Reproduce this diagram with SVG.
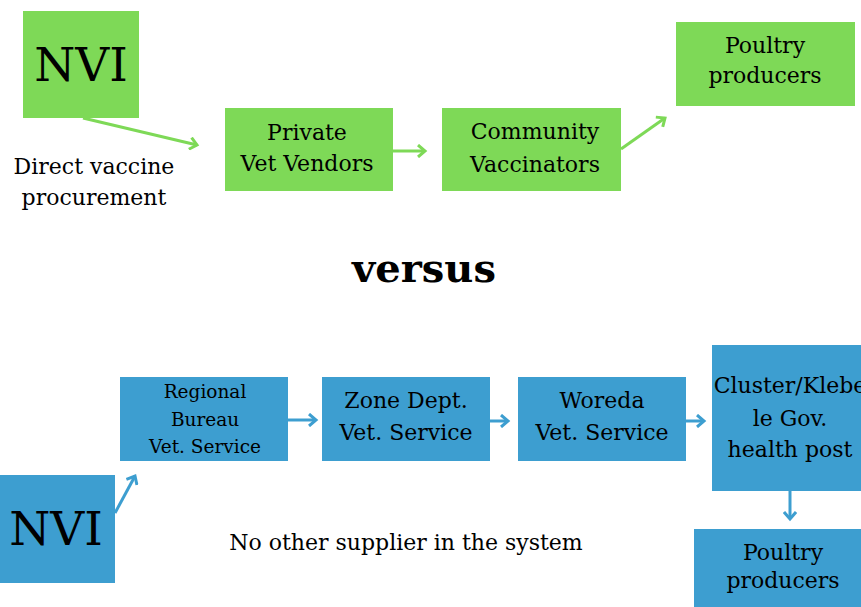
<svg xmlns="http://www.w3.org/2000/svg" width="861" height="607" viewBox="0 0 861 607">
<style>
.g{fill:#7ED957}
.b{fill:#3D9ED0}
text{font-family:"DejaVu Serif","Liberation Serif",serif;fill:#000;text-anchor:middle}
.t{font-size:22px}
.s{font-size:18.5px}
.big{font-size:47px}
.vs{font-size:40px;font-weight:bold}
.cg{stroke:#7ED957;stroke-width:3;fill:none}
.cb{stroke:#3D9ED0;stroke-width:3;fill:none}
</style>
<defs>
<marker id="ag" markerUnits="userSpaceOnUse" markerWidth="14" markerHeight="14" refX="10" refY="7" orient="auto">
<path d="M3,1 L10,7 L3,13" fill="none" stroke="#7ED957" stroke-width="3"/>
</marker>
<marker id="ab" markerUnits="userSpaceOnUse" markerWidth="14" markerHeight="14" refX="10" refY="7" orient="auto">
<path d="M3,1 L10,7 L3,13" fill="none" stroke="#3D9ED0" stroke-width="3"/>
</marker>
</defs>
<g id="connectors">
<line class="cg" x1="83" y1="118" x2="197" y2="145" marker-end="url(#ag)"/>
<line class="cg" x1="393" y1="151" x2="425" y2="151" marker-end="url(#ag)"/>
<line class="cg" x1="621" y1="149" x2="665" y2="118" marker-end="url(#ag)"/>
<line class="cb" x1="115" y1="513" x2="135" y2="476" marker-end="url(#ab)"/>
<line class="cb" x1="288" y1="420" x2="316" y2="420" marker-end="url(#ab)"/>
<line class="cb" x1="490" y1="421" x2="508" y2="421" marker-end="url(#ab)"/>
<line class="cb" x1="686" y1="421" x2="704" y2="421" marker-end="url(#ab)"/>
<line class="cb" x1="790" y1="491" x2="790" y2="519" marker-end="url(#ab)"/>
</g>
<g id="nvi-top"><rect class="g" x="23" y="11" width="116" height="107"/><text class="big" x="81" y="81">NVI</text></g>
<g id="label-direct"><text class="t" x="94" y="174">Direct vaccine</text><text class="t" x="94" y="205">procurement</text></g>
<g id="private"><rect class="g" x="225" y="108" width="168" height="83"/><text class="t" x="307" y="140">Private</text><text class="t" x="307" y="171">Vet Vendors</text></g>
<g id="community"><rect class="g" x="442" y="108" width="179" height="83"/><text class="t" x="535" y="139">Community</text><text class="t" x="535" y="172">Vaccinators</text></g>
<g id="poultry-top"><rect class="g" x="676" y="22" width="179" height="84"/><text class="t" x="765" y="53">Poultry</text><text class="t" x="765" y="83">producers</text></g>
<g id="versus"><text class="vs" x="424" y="282">versus</text></g>
<g id="regional"><rect class="b" x="120" y="377" width="168" height="84"/><text class="s" x="205" y="398">Regional</text><text class="s" x="205" y="426">Bureau</text><text class="s" x="205" y="453">Vet. Service</text></g>
<g id="zone"><rect class="b" x="322" y="377" width="168" height="84"/><text class="t" x="406" y="408">Zone Dept.</text><text class="t" x="406" y="440">Vet. Service</text></g>
<g id="woreda"><rect class="b" x="518" y="377" width="168" height="84"/><text class="t" x="602" y="408">Woreda</text><text class="t" x="602" y="440">Vet. Service</text></g>
<g id="cluster"><rect class="b" x="712" y="345" width="160" height="146"/><text class="t" x="790" y="393">Cluster/Klebe</text><text class="t" x="790" y="426">le Gov.</text><text class="t" x="790" y="457">health post</text></g>
<g id="poultry-bottom"><rect class="b" x="694" y="529" width="178" height="90"/><text class="t" x="783" y="560">Poultry</text><text class="t" x="783" y="588">producers</text></g>
<g id="nvi-bottom"><rect class="b" x="0" y="475" width="115" height="108"/><text class="big" x="56" y="545">NVI</text></g>
<g id="label-none"><text class="t" x="406" y="550">No other supplier in the system</text></g>
</svg>
